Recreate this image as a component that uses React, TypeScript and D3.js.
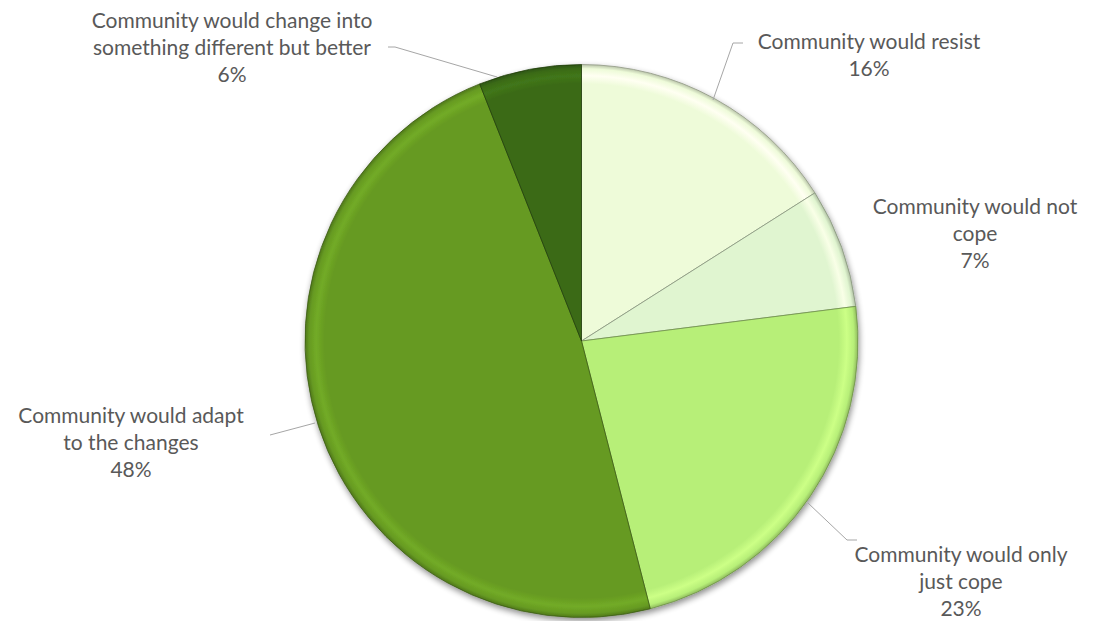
import React from "react";
import * as d3 from "d3";

const categories = [
  "Community would resist",
  "Community would not cope",
  "Community would only just cope",
  "Community would adapt to the changes",
  "Community would change into something different but better",
];
const values = [16, 7, 23, 48, 6];
const colors = ["#eefbd9", "#e0f5d0", "#b7ef78", "#669a22", "#3a6a17"];
const labelLines = [
  ["Community would resist", "16%"],
  ["Community would not", "cope", "7%"],
  ["Community would only", "just cope", "23%"],
  ["Community would adapt", "to the changes", "48%"],
  ["Community would change into", "something different but better", "6%"],
];

// layout
const W = 1101, H = 621;
const cx = 581.5, cy = 341, R = 276.5;
const labelPos = [
  { x: 869, y: 42 },
  { x: 975, y: 207 },
  { x: 961, y: 555 },
  { x: 131, y: 416 },
  { x: 232, y: 21 },
];
const leaders: ([number, number][] | null)[] = [
  [[743, 43], [733, 43], [713, 100]],
  null,
  [[808, 503], [847, 540], [857, 540]],
  [[270, 435], [315, 423]],
  [[388, 47], [395, 47], [497, 77]],
];
const lineH = 27;

export default function App() {
  const pie = d3.pie<number>().sort(null).value((d) => d)(values);
  const arc = d3.arc<d3.PieArcDatum<number>>().innerRadius(0).outerRadius(R);
  const line = d3.line();
  return (
    <svg width={W} height={H} style={{ position: "absolute", left: 0, top: 0, background: "#fff" }}>
      <defs>
        <filter id="sh" x="-20%" y="-20%" width="140%" height="140%">
          <feGaussianBlur in="SourceAlpha" stdDeviation="3" />
          <feOffset dx="1" dy="3" result="b" />
          <feComponentTransfer>
            <feFuncA type="linear" slope="0.45" />
          </feComponentTransfer>
          <feMerge>
            <feMergeNode />
            <feMergeNode in="SourceGraphic" />
          </feMerge>
        </filter>
        {colors.map((c, i) => {
          const base = d3.color(c)!.formatHex();
          const light = d3.color(c)!.brighter(0.3).formatHex();
          const dark = d3.color(c)!.darker(0.7).formatHex();
          return (
            <radialGradient key={i} id={`g${i}`} gradientUnits="userSpaceOnUse" cx={0} cy={0} r={R}>
              <stop offset="0" stopColor={base} />
              <stop offset="0.93" stopColor={base} />
              <stop offset="0.96" stopColor={light} />
              <stop offset="0.985" stopColor={base} />
              <stop offset="1" stopColor={dark} />
            </radialGradient>
          );
        })}
      </defs>
      <g filter="url(#sh)" transform={`translate(${cx},${cy})`}>
        {pie.map((p, i) => (
          <path
            key={categories[i]}
            d={arc(p) || ""}
            fill={`url(#g${i})`}
            stroke={d3.color(colors[i])!.darker(1.4).formatHex()}
            strokeWidth={0.8}
            strokeLinejoin="round"
          />
        ))}
      </g>
      {leaders.map((pts, i) =>
        pts ? (
          <path key={`l${i}`} d={line(pts) || ""} fill="none" stroke="#a6a6a6" strokeWidth={1} />
        ) : null
      )}
      {labelLines.map((lines, i) => (
        <text
          key={`t${i}`}
          x={labelPos[i].x}
          y={labelPos[i].y}
          textAnchor="middle"
          fill="#595959"
          fontFamily="Lato, 'Open Sans', sans-serif"
          fontSize={21}
        >
          {lines.map((s, j) => (
            <tspan key={j} x={labelPos[i].x} y={labelPos[i].y + j * lineH} dy="0.35em">
              {s}
            </tspan>
          ))}
        </text>
      ))}
    </svg>
  );
}
